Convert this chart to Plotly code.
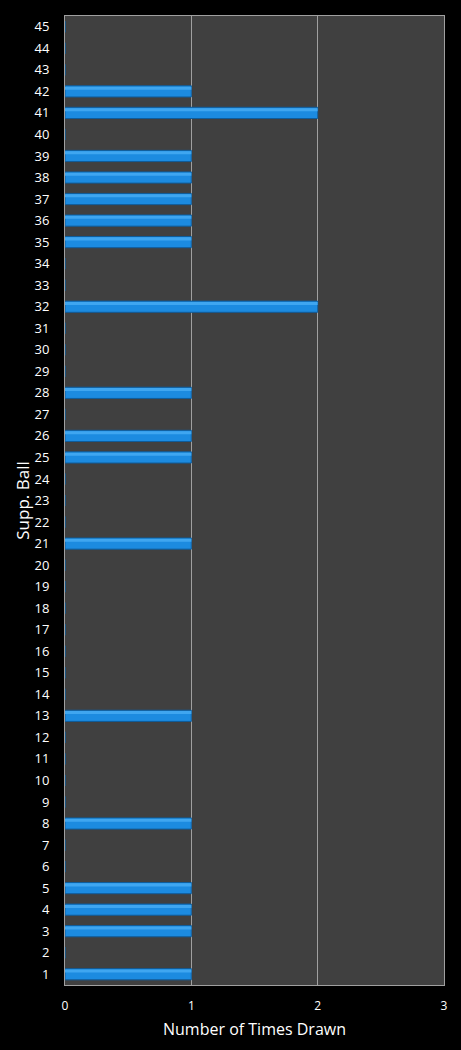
import plotly.graph_objects as go

balls = list(range(1, 46))
drawn = {1: 1, 3: 1, 4: 1, 5: 1, 8: 1, 13: 1, 21: 1, 25: 1, 26: 1, 28: 1,
         32: 2, 35: 1, 36: 1, 37: 1, 38: 1, 39: 1, 41: 2, 42: 1}
counts = [drawn.get(b, 0) for b in balls]
x_ticks = [0, 1, 2, 3]

fig = go.Figure()
fig.add_trace(go.Bar(
    x=counts, y=balls, orientation="h", width=0.52,
    marker=dict(color="#1c8be0", line=dict(color="#0f5c9a", width=1)),
    hoverinfo="x+y",
))
fig.add_trace(go.Bar(
    x=counts, y=balls, orientation="h", width=0.14, offset=0.08,
    marker=dict(color="#3fa6f0", line=dict(width=0)),
    hoverinfo="skip",
))

fig.update_layout(
    width=461, height=1050,
    margin=dict(l=65, r=17, t=16, b=65),
    paper_bgcolor="#000000", plot_bgcolor="#404040",
    barmode="overlay", showlegend=False, bargap=0.48,
    font=dict(family="Open Sans, DejaVu Sans, sans-serif", color="#ffffff", size=13),
)
fig.update_xaxes(
    range=[0, 3], tickvals=x_ticks, ticktext=[str(v) for v in x_ticks],
    showgrid=True, gridcolor="#a0a0a0", gridwidth=1, zeroline=False,
    showline=True, linecolor="#a0a0a0", mirror=True,
    title=dict(text="Number of Times Drawn", font=dict(size=16), standoff=10),
    tickfont=dict(size=12), ticks="", ticklabelstandoff=10, fixedrange=True,
)
fig.update_yaxes(
    range=[0.5, 45.5], tickvals=balls, ticktext=[str(b) for b in balls],
    showgrid=False, zeroline=False,
    showline=True, linecolor="#a0a0a0", mirror=True,
    title=dict(text="Supp. Ball", font=dict(size=17), standoff=0),
    tickfont=dict(size=13), ticks="", ticklabelstandoff=12, fixedrange=True,
)

fig.write_html("out.html")
